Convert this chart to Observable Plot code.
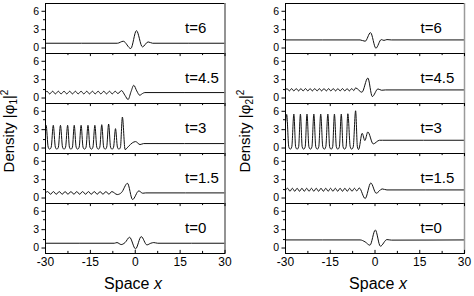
<!DOCTYPE html>
<html><head><meta charset="utf-8">
<script src="https://cdn.jsdelivr.net/npm/d3@7"></script>
<script src="https://cdn.jsdelivr.net/npm/@observablehq/plot@0.6"></script>
<style>
body{margin:0;background:#fff}
#chart{display:flex;width:474px;height:296px}
</style></head><body><div id="chart"></div>
<script>
// Panels (top to bottom) and tick values
const panels = ["t=6", "t=4.5", "t=3", "t=1.5", "t=0"];
const xTicks = [-30, -15, 0, 15, 30];
const xMinorTicks = [-22.5, -7.5, 7.5, 22.5];
const yTickLow = [0];
const yTickMid = [3];
const yTickHigh = [6];
const yMinorTicks = [1.5, 4.5];

// Component 1 density |phi1|^2, [x, density]
const phi1_t6 = [[-30,0.95],[-6,0.95],[-4.0,1.25],[-1.5,0.15],[0.4,2.85],[2.4,0.4],[4.3,1.15],[5.8,0.95],[30,0.95]];
const phi1_t45 = [[-30,1.05],[-29.5,1.25],[-28.6,0.85],[-27.6,1.25],[-26.7,0.85],[-25.7,1.25],[-24.8,0.85],[-23.8,1.25],[-22.9,0.85],[-21.9,1.25],[-21.0,0.85],[-20.0,1.25],[-19.1,0.85],[-18.1,1.25],[-17.2,0.85],[-16.2,1.25],[-15.3,0.85],[-14.3,1.25],[-13.4,0.85],[-12.4,1.25],[-11.5,0.85],[-10.5,1.25],[-9.6,0.85],[-8.6,1.25],[-7.7,0.85],[-6.7,1.25],[-5.8,0.9],[-4.6,1.35],[-3.4,0.6],[-2.4,0.0],[-1.4,1.2],[-0.5,2.15],[0.5,1.3],[1.5,0.65],[2.4,0.9],[3.2,1.05],[30,1.05]];
const phi1_t3 = [[-30,3.3],[-29.8,3.65],[-29.1,0.35],[-28.6,0.05],[-28.1,0.35],[-27.4,3.65],[-26.7,0.35],[-26.2,0.05],[-25.7,0.35],[-25.0,3.65],[-24.3,0.35],[-23.8,0.05],[-23.3,0.35],[-22.6,3.65],[-22.0,0.35],[-21.5,0.05],[-21.0,0.35],[-20.4,3.65],[-19.75,0.35],[-19.25,0.05],[-18.75,0.35],[-18.1,3.65],[-17.45,0.35],[-16.95,0.05],[-16.45,0.35],[-15.8,3.65],[-15.15,0.35],[-14.65,0.05],[-14.15,0.35],[-13.5,3.65],[-12.85,0.35],[-12.35,0.05],[-11.85,0.35],[-11.2,3.75],[-10.55,0.35],[-10.05,0.05],[-9.55,0.35],[-8.9,3.85],[-8.25,0.35],[-7.75,0.05],[-7.25,0.35],[-6.6,3.15],[-5.95,0.35],[-5.45,0.05],[-4.95,0.35],[-4.3,4.9],[-3.4,0.0],[-2.2,0.5],[-1.0,1.0],[0.1,1.2],[1.6,0.75],[2.8,0.9],[30,0.9]];
const phi1_t15 = [[-30,1.0],[-29.3,1.2],[-28.3,0.8],[-27.35,1.2],[-26.4,0.8],[-25.4,1.2],[-24.4,0.8],[-23.45,1.2],[-22.5,0.8],[-21.5,1.2],[-20.5,0.8],[-19.55,1.2],[-18.6,0.8],[-17.6,1.2],[-16.6,0.8],[-15.65,1.2],[-14.7,0.8],[-13.7,1.2],[-12.7,0.8],[-11.75,1.2],[-10.8,0.8],[-9.8,1.2],[-8.8,0.8],[-7.85,1.2],[-6.0,0.75],[-4.6,1.05],[-2.6,2.45],[-0.9,0.0],[1.2,1.3],[2.5,0.95],[3.5,1.0],[30,1.0]];
const phi1_t0 = [[-30,0.95],[-7,0.95],[-6.1,1.05],[-4.7,0.75],[-3.4,1.05],[-1.9,1.85],[0.1,0.1],[2.0,1.95],[3.9,0.7],[5.2,0.95],[6.2,1.05],[7.5,0.95],[30,0.95]];

// Component 2 density |phi2|^2
const phi2_t6 = [[-30,1.45],[-5,1.45],[-3.3,1.25],[-1.5,2.55],[0.3,0.2],[2.1,1.5],[3.0,1.38],[4.0,1.5],[5.5,1.45],[30,1.45]];
const phi2_t45 = [[-30,1.45],[-29.5,1.65],[-28.7,1.3],[-27.95,1.65],[-27.2,1.3],[-26.4,1.65],[-25.6,1.3],[-24.85,1.65],[-24.1,1.3],[-23.3,1.65],[-22.5,1.3],[-21.75,1.65],[-21.0,1.3],[-20.2,1.65],[-19.4,1.3],[-18.65,1.65],[-17.9,1.3],[-17.1,1.65],[-16.3,1.3],[-15.55,1.65],[-14.8,1.3],[-14.0,1.65],[-13.2,1.3],[-12.45,1.65],[-11.7,1.3],[-10.9,1.65],[-10.1,1.3],[-9.35,1.65],[-8.6,1.3],[-7.8,1.65],[-7.1,1.35],[-6.5,1.75],[-4.4,1.1],[-2.4,3.25],[-0.9,0.45],[1.0,1.6],[2.2,1.4],[3.5,1.45],[30,1.45]];
const phi2_t3 = [[-30,4.0],[-29.6,5.3],[-28.9,0.4],[-28.4,0.05],[-27.9,0.4],[-27.2,5.35],[-26.6,0.4],[-26.1,0.05],[-25.6,0.4],[-25.0,5.35],[-24.4,0.4],[-23.9,0.05],[-23.4,0.4],[-22.8,5.35],[-22.15,0.4],[-21.65,0.05],[-21.15,0.4],[-20.5,5.35],[-19.85,0.4],[-19.35,0.05],[-18.85,0.4],[-18.2,5.35],[-17.5,0.4],[-17.0,0.05],[-16.5,0.4],[-15.8,5.35],[-15.2,0.4],[-14.7,0.05],[-14.2,0.4],[-13.6,5.35],[-12.95,0.4],[-12.45,0.05],[-11.95,0.4],[-11.3,5.35],[-10.7,0.4],[-10.2,0.05],[-9.7,0.4],[-9.1,5.4],[-8.3,0.4],[-7.8,0.05],[-7.3,0.4],[-6.5,5.85],[-5.9,0.4],[-5.5,0.0],[-4.3,2.45],[-3.4,1.35],[-2.4,2.65],[-0.6,0.85],[1.5,1.4],[2.5,1.4],[30,1.4]];
const phi2_t15 = [[-30,1.45],[-29.3,1.7],[-28.5,1.25],[-27.7,1.7],[-26.9,1.25],[-26.1,1.7],[-25.3,1.25],[-24.5,1.7],[-23.7,1.25],[-22.9,1.7],[-22.1,1.25],[-21.3,1.7],[-20.5,1.25],[-19.7,1.7],[-18.9,1.25],[-18.1,1.7],[-17.3,1.25],[-16.5,1.7],[-15.7,1.25],[-14.9,1.7],[-14.1,1.25],[-13.3,1.7],[-12.5,1.25],[-11.7,1.7],[-10.9,1.25],[-10.1,1.7],[-9.3,1.25],[-8.5,1.7],[-7.7,1.25],[-6.9,1.7],[-6.1,1.3],[-5.3,1.75],[-3.3,0.15],[-1.4,2.5],[0.4,0.95],[2.4,1.6],[4.0,1.45],[30,1.45]];
const phi2_t0 = [[-30,1.45],[-5,1.45],[-3.3,1.15],[-1.7,0.65],[0.1,2.95],[1.8,0.5],[4.0,1.5],[5.5,1.42],[30,1.45]];

const phi1Series = [phi1_t6, phi1_t45, phi1_t3, phi1_t15, phi1_t0];
const phi2Series = [phi2_t6, phi2_t45, phi2_t3, phi2_t15, phi2_t0];

const FONT = "Arial, 'Liberation Sans', Helvetica, sans-serif";

function makeColumn(series, opts) {
  const rows = [];
  panels.forEach((t, i) => series[i].forEach(([x, y]) => rows.push({t, x, y})));
  const H = 296, MT = 2, MB = 42;
  const facetH = (H - MT - MB) / panels.length;
  const tickRows = (ticks, which) => which.flatMap(t => ticks.map(x => ({t, x})));
  const inner = panels.slice(1);
  const bottom = [panels[panels.length - 1]];
  const yAxis = (ticks, dy) => Plot.axisY({ticks, tickSize: 3.5, tickPadding: 3, label: null, fontSize: 10.5, dy, tickFormat: d => String(d)});
  const plot = Plot.plot({
    width: 237, height: H,
    marginTop: MT, marginBottom: MB, marginLeft: opts.ml, marginRight: opts.mr,
    style: {fontFamily: FONT, fontSize: "12px", color: "#000", background: "#fff", overflow: "visible"},
    x: {domain: [-30, 30]},
    y: {domain: [-0.6, 6.95]},
    fy: {domain: panels, padding: 0, axis: null},
    marks: [
      Plot.line(rows, {x: "x", y: "y", z: "t", fy: "t", curve: "monotone-x", stroke: "#111", strokeWidth: 1}),
      Plot.frame({stroke: "#000"}),
      Plot.ruleX([30], {stroke: "#9a9a9a", strokeWidth: 1.5}),
      Plot.tickX(tickRows(xTicks, inner), {x: "x", fy: "t", insetBottom: facetH - 3.5, stroke: "#000"}),
      Plot.tickX(tickRows(xMinorTicks, inner), {x: "x", fy: "t", insetBottom: facetH - 2.5, stroke: "#000"}),
      Plot.tickX(tickRows(xTicks, bottom), {x: "x", fy: "t", insetTop: facetH - 3.5, stroke: "#000"}),
      Plot.tickX(tickRows(xMinorTicks, bottom), {x: "x", fy: "t", insetTop: facetH - 2.5, stroke: "#000"}),
      yAxis(yTickLow, -1.5),
      yAxis(yTickMid, 0),
      yAxis(yTickHigh, 1.5),
      Plot.axisY({ticks: yMinorTicks, tickSize: 2, label: null, tickFormat: () => ""}),
      Plot.axisX({ticks: xTicks, tickSize: 0, tickPadding: 4, label: null, fontSize: 12, tickFormat: d => String(d)}),
      Plot.text(panels.map(t => ({t})), {fy: "t", text: "t", frameAnchor: "top-right", textAnchor: "start", dx: opts.labelDx, dy: 19, fontSize: 15, fill: "#000"})
    ]
  });
  const svg = d3.select(plot);
  const yl = svg.append("text")
    .attr("transform", `translate(${opts.ylx},131) rotate(-90)`)
    .attr("text-anchor", "middle").attr("font-family", FONT).attr("font-size", 15).attr("fill", "#000");
  yl.append("tspan").text("Density |\u03C6");
  yl.append("tspan").attr("dy", 3).attr("font-size", 10).text(opts.sub);
  yl.append("tspan").attr("dy", -3).text("|");
  yl.append("tspan").attr("dy", -6).attr("font-size", 10).text("2");
  const xl = svg.append("text")
    .attr("x", opts.xlx).attr("y", 289)
    .attr("text-anchor", "middle").attr("font-family", FONT).attr("font-size", 16).attr("fill", "#000");
  xl.append("tspan").text("Space ");
  xl.append("tspan").attr("font-style", "italic").text("x");
  return plot;
}

const chart = document.getElementById("chart");
chart.appendChild(makeColumn(phi1Series, {ml: 45, mr: 12.5, labelDx: -40, ylx: 14, xlx: 133, sub: "1"}));
chart.appendChild(makeColumn(phi2Series, {ml: 48, mr: 10, labelDx: -44, ylx: 13, xlx: 141, sub: "2"}));
</script></body></html>
